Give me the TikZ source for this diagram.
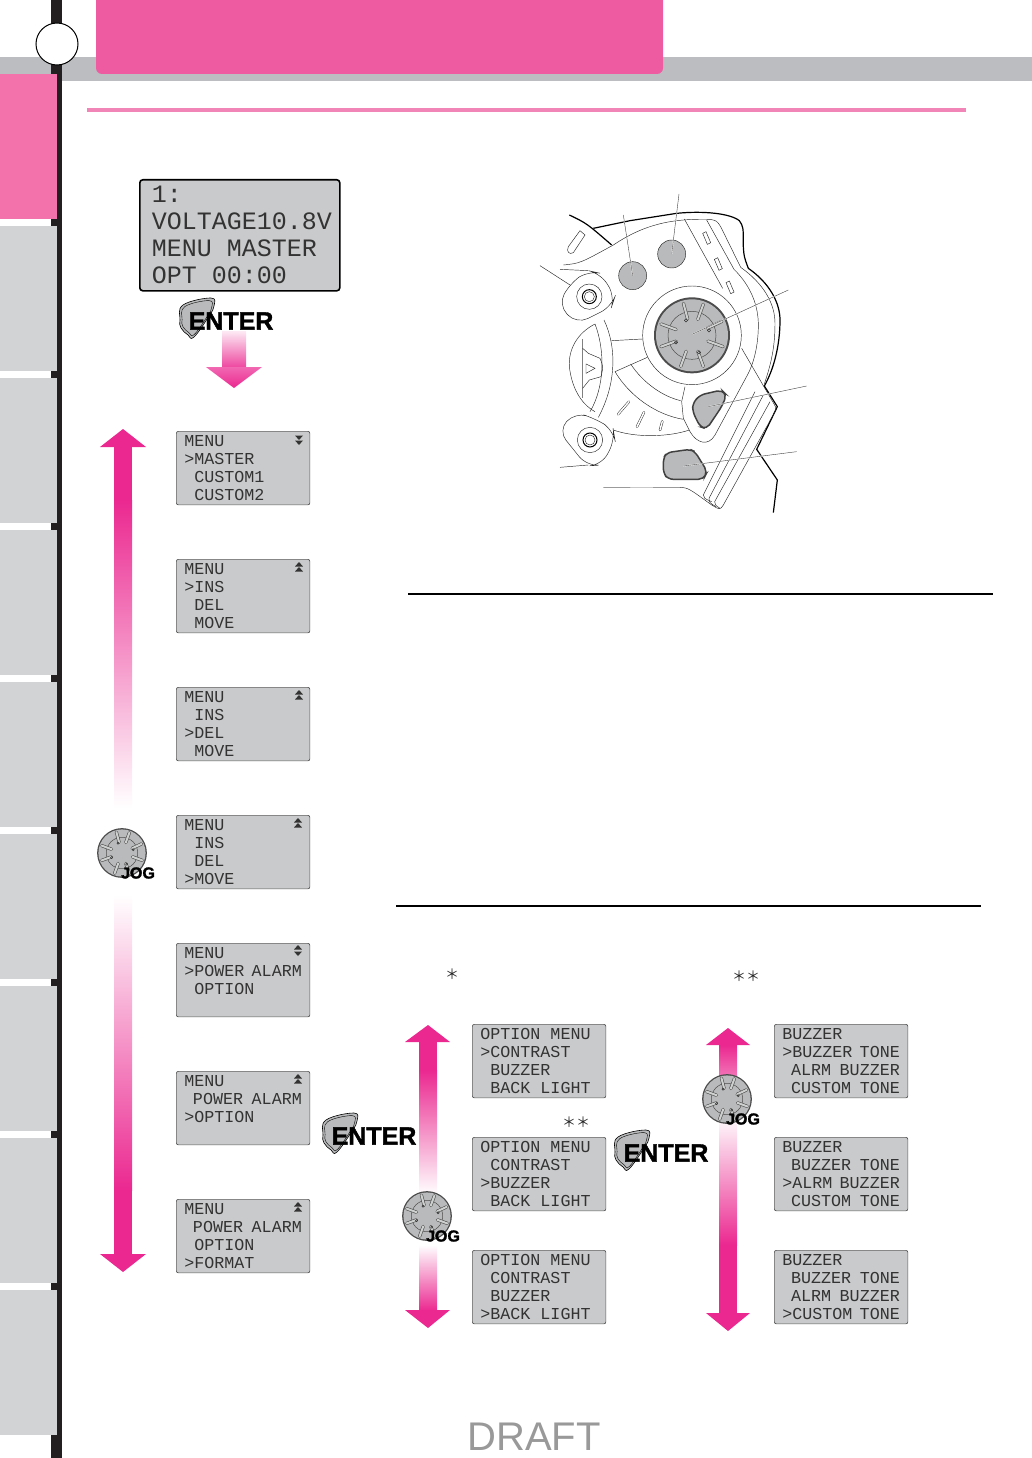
\documentclass[tikz,border=0pt]{standalone}
\usepackage{fontspec}
\usepackage{xcolor}
\setmainfont{Liberation Sans}
\newfontfamily\lcdfont{Liberation Mono}
\newfontfamily\keyfont[FakeBold=1.5]{Liberation Sans Bold}
\newfontfamily\cjkfont{Noto Sans CJK JP}
\definecolor{tabgray}{HTML}{D1D3D4}
\definecolor{bandgray}{HTML}{BCBDC0}
\definecolor{barblack}{HTML}{231F20}
\definecolor{headerpink}{HTML}{EF5BA1}
\definecolor{tabpink}{HTML}{F472AC}
\definecolor{rulepink}{HTML}{F285B8}
\definecolor{arrowpink}{HTML}{EB2890}
\definecolor{lcdgray}{HTML}{C9CACB}
\definecolor{lcdink}{HTML}{333333}
\definecolor{keygray}{HTML}{B9BABB}
\tikzset{
	lcdbox/.style={draw=black!65,fill=lcdgray,rounded corners=2pt,line width=.7pt,anchor=north west,
		minimum width=133.5,minimum height=73.5,inner xsep=8,inner ysep=0,text width=117.5,align=flush left,
		text=lcdink,font=\lcdfont\fontsize{16.7}{18}\selectfont},
	biglcd/.style={draw=black,fill=lcdgray,rounded corners=3pt,line width=1.6pt,anchor=north west,
		minimum width=200,minimum height=111,inner xsep=12,inner ysep=0,text width=176,align=flush left,
		text=lcdink,font=\lcdfont\fontsize{25}{27}\selectfont},
	starmark/.style={inner sep=0,text=black!85,font=\cjkfont\fontsize{14}{14}\selectfont},
	thinline/.style={line width=.45pt,black!85},
	thickline/.style={line width=1.2pt,black},
	leader/.style={line width=.4pt,black!75,preaction={draw=white,line width=1.1pt}},
	keyshape/.style={draw=black!75,line width=1.5pt,fill=keygray,rounded corners=5pt},
	markup/.pic={\fill[lcdink] (-4,-.5) -- (4,-.5) -- (0,-5) -- cycle;},
	markdown/.pic={\fill[lcdink] (-4,.5) -- (4,.5) -- (0,5) -- cycle;},
	jogdial/.pic={
		\fill[black!70] (0,0) circle (38);
		\fill[keygray] (0,0) circle (36);
		\draw[line width=.5pt,black!70] (0,0) circle (24);
		\foreach \a in {160,105,70,25,-20,-70,-110,200}{
			\draw[line width=3.2pt,line cap=round,black!70] (\a:17pt) -- (\a:33pt);
			\draw[line width=2pt,line cap=round,keygray!70!white] (\a:17pt) -- (\a:33pt);
		}
		\foreach \p in {(-6,-15),(17,-5),(-16,7),(7,17)}{\draw[line width=.5pt,black!80] \p circle (1.6);}
	},
	jogkey/.pic={
		\pic[scale=.655] {jogdial};
		\node[inner sep=0,font=\keyfont\fontsize{16}{16}\selectfont] (-label) at (16,20) {JOG};
	},
	enterkey/.pic={
		\draw[fill=keygray,line width=.6pt] plot[smooth cycle,tension=.7] coordinates {(-16,2) (-13,-13) (15,-20) (18,-12) (13,-2) (-2,19) (-8,17) (-15,10)};
		\draw[line width=.4pt,scale=.87] plot[smooth cycle,tension=.7] coordinates {(-16,2) (-13,-13) (15,-20) (18,-12) (13,-2) (-2,19) (-8,17) (-15,10)};
		\node[inner sep=0,font=\keyfont\fontsize{25}{25}\selectfont] (-label) at (35,3) {ENTER};
	}
}
\begin{document}
\begin{tikzpicture}[x=1pt,y=-1pt]
	\useasboundingbox (0,0) rectangle (1032,1458);
	% page furniture
	\fill[bandgray] (0,57) rectangle (1032,81);
	\fill[barblack] (51,0) rectangle (62,1458);
	\fill[tabpink] (0,74) rectangle (57,219);
	\foreach \t in {226,378,...,1290}{
		\fill[tabgray] (0,\t) rectangle (57,\t+145);
	}
	\fill[headerpink,rounded corners=6pt] (96,-10) rectangle (663,74);
	\draw[fill=white,line width=1pt] (57,44) circle (21);
	\fill[rulepink] (87,108) rectangle (966,112);
	\draw[line width=1.4pt] (408,594) -- (993,594);
	\draw[line width=1.4pt] (396,906) -- (981,906);
	\node[text=black!40,inner sep=0,font=\fontsize{40}{40}\selectfont] (draft) at (534,1437) {DRAFT};

	% first screen and enter
	\node[biglcd] (home) at (139,179) {1:\\VOLTAGE10.8V\\MENU~MASTER\\OPT~00:00};
	\shade[top color=arrowpink!10,bottom color=arrowpink!85] (222,331) rectangle (246,367);
	\shade[top color=arrowpink!70,bottom color=arrowpink] (206,367) -- (262,367) -- (234,388) -- cycle;
	\pic (enterone) at (196,318) {enterkey};

	% long menu arrow
	\fill[arrowpink] (123,429) -- (146,447) -- (100,447) -- cycle;
	\shade[top color=arrowpink,bottom color=white] (114,500) rectangle (132,808);
	\fill[arrowpink] (114,447) rectangle (132,500);
	\shade[top color=white,bottom color=arrowpink] (114,895) rectangle (132,1190);
	\fill[arrowpink] (114,1190) rectangle (132,1254);
	\fill[arrowpink] (100,1254) -- (146,1254) -- (123,1272) -- cycle;
	\pic (jogone) at (122,853) {jogkey};

	% main menu screens
	\node[lcdbox] (master) at (176,431) {MENU\\>MASTER\\~CUSTOM1\\~CUSTOM2};
	\node[lcdbox] (ins) at (176,559) {MENU\\>INS\\~DEL\\~MOVE};
	\node[lcdbox] (del) at (176,687) {MENU\\~INS\\>DEL\\~MOVE};
	\node[lcdbox] (move) at (176,815) {MENU\\~INS\\~DEL\\>MOVE};
	\node[lcdbox] (alarm) at (176,943) {MENU\\>POWER~ALARM\\~OPTION\\~};
	\node[lcdbox] (option) at (176,1071) {MENU\\~POWER~ALARM\\>OPTION\\~};
	\node[lcdbox] (format) at (176,1199) {MENU\\~POWER~ALARM\\~OPTION\\>FORMAT};
	\pic at (299,435) {markdown};
	\pic at (299,440) {markdown};
	\foreach \x/\y in {299/567,299/695,298/823,298/1079,298/1207}{
		\pic at (\x,\y) {markup};
		\pic at (\x,\y+5) {markup};
	}
	\pic at (298,950) {markup};
	\pic at (298,951) {markdown};

	% option menu
	\node[starmark] (stara) at (452,974) {＊};
	\node[starmark] (starb) at (746,976) {＊＊};
	\node[starmark] (starc) at (576,1122) {＊＊};
	\fill[arrowpink] (428,1025) -- (450,1042) -- (405,1042) -- cycle;
	\fill[arrowpink] (419,1042) rectangle (437,1070);
	\shade[top color=arrowpink,bottom color=white] (419,1070) rectangle (437,1195);
	\shade[top color=white,bottom color=arrowpink] (419,1245) rectangle (437,1311);
	\fill[arrowpink] (405,1310) -- (450,1310) -- (428,1328) -- cycle;
	\pic (enteropt) at (339,1133) {enterkey};
	\pic (jogopt) at (427,1216) {jogkey};
	\node[lcdbox] (contrast) at (472,1024) {OPTION~MENU\\>CONTRAST\\~BUZZER\\~BACK~LIGHT};
	\node[lcdbox] (buzzer) at (472,1137) {OPTION~MENU\\~CONTRAST\\>BUZZER\\~BACK~LIGHT};
	\node[lcdbox] (backlight) at (472,1250) {OPTION~MENU\\~CONTRAST\\~BUZZER\\>BACK~LIGHT};

	% buzzer menu
	\fill[arrowpink] (728,1028) -- (750,1045) -- (706,1045) -- cycle;
	\shade[top color=arrowpink,bottom color=arrowpink!55] (719,1045) rectangle (737,1085);
	\shade[top color=white,bottom color=arrowpink] (719,1115) rectangle (737,1245);
	\fill[arrowpink] (719,1245) rectangle (737,1313);
	\fill[arrowpink] (706,1313) -- (750,1313) -- (728,1331) -- cycle;
	\pic (enterbuz) at (631,1150) {enterkey};
	\pic (jogbuz) at (727,1099) {jogkey};
	\node[lcdbox] (tone) at (774,1024) {BUZZER\\>BUZZER~TONE\\~ALRM~BUZZER\\~CUSTOM~TONE};
	\node[lcdbox] (alrm) at (774,1137) {BUZZER\\~BUZZER~TONE\\>ALRM~BUZZER\\~CUSTOM~TONE};
	\node[lcdbox] (custom) at (774,1250) {BUZZER\\~BUZZER~TONE\\~ALRM~BUZZER\\>CUSTOM~TONE};

	% transmitter drawing
	\begin{scope}[shift={(530,180)},scale=1/3]
		\draw[thickline] (118,105) .. controls (170,130) .. (245,195);
		\draw[thickline,line join=round] (190,145) -- (300,122) -- (440,100) .. controls (520,92) and (600,100) .. (628,122)
			.. controls (640,140) .. (640,200) .. controls (642,230) .. (655,265)
			.. controls (720,310) and (750,370) .. (750,420) .. controls (750,500) and (730,570) .. (703,618)
			-- (742,680) -- (680,808) -- (742,900) -- (730,998);
		\draw[thinline] (100,255) .. controls (150,250) .. (250,195) .. controls (340,135) and (420,115) .. (540,118);
		\draw[thinline] (150,152) -- (165,165) -- (130,218) .. controls (118,225) and (108,215) .. (115,200) -- cycle;
		\draw[thinline] (463,117) -- (578,325);
		\draw[thinline] (540,118) .. controls (560,122) .. (572,140) -- (632,262) .. controls (700,310) and (735,370) .. (735,430)
			.. controls (735,510) and (720,560) .. (703,612);
		\draw[thinline] (530,120) -- (612,268) .. controls (665,320) and (685,380) .. (685,435) .. controls (685,500) and (670,550) .. (655,580);
		\foreach \dx/\dy in {0/0,35/78,70/148}{
			\draw[thinline] (518+\dx,160+\dy) -- (528+\dx,155+\dy) -- (542+\dx,188+\dy) -- (532+\dx,193+\dy) -- cycle;
		}
		% round keys and dial
		\draw[thinline,fill=keygray] (308,287) circle (42);
		\draw[thinline,fill=keygray] (425,222) circle (42);
		\draw[thinline,fill=white] (486,466) circle (148);
		\pic at (486,466) {jogdial};
		% left lugs
		\draw[thinline,rounded corners=12pt,fill=white] (85,375) -- (120,310) -- (175,272) -- (212,280) -- (255,350) -- (245,380) -- (140,432) -- cycle;
		\draw[thinline,rounded corners=12pt,fill=white] (85,752) -- (135,697) -- (195,715) -- (250,750) -- (255,780) -- (215,855) -- (170,858) -- cycle;
		\foreach \cx/\cy in {178/350,180/780}{
			\draw[thinline] (\cx,\cy) circle (38);
			\draw[line width=1pt] (\cx,\cy) circle (21);
			\draw[thinline] (\cx,\cy) circle (15);
		}
		% wheel between the lugs
		\draw[thinline] (195,432) .. controls (140,460) and (115,510) .. (118,560) .. controls (125,620) and (150,670) .. (195,695);
		\draw[thinline] (195,432) .. controls (225,510) and (225,620) .. (180,695);
		\draw[thinline] (222,420) .. controls (260,500) and (260,610) .. (205,712);
		\draw[thinline,black!50] (158,478) -- (158,655);
		\draw[thinline] (158,505) -- (175,520) -- (210,535) .. controls (220,560) .. (213,590) -- (178,600) -- (158,625);
		\draw[thinline] (168,552) -- (195,565) -- (168,580) -- cycle;
		\draw[thinline] (245,482) -- (338,477);
		\draw[thinline] (255,575) -- (352,532);
		\draw[thinline] (302,552) .. controls (340,610) and (400,650) .. (452,662);
		\draw[thinline] (255,575) .. controls (300,650) and (380,705) .. (460,718);
		\draw[thinline] (250,750) .. controls (320,775) and (420,770) .. (478,750);
		\draw[thinline,double=white,double distance=1.5pt,line cap=round] (297,665) -- (264,703);
		\draw[thinline,double=white,double distance=1.5pt,line cap=round] (342,697) -- (321,740);
		\draw[thinline,double=white,double distance=1.5pt,line cap=round] (397,724) -- (390,750);
		% lower right housing
		\draw[thinline] (465,620) -- (455,665) -- (460,715) -- (480,755) .. controls (500,790) and (535,800) .. (555,765) -- (655,580);
		\draw[thinline] (635,505) -- (725,660) .. controls (740,685) .. (735,695) -- (580,975) .. controls (570,990) .. (545,975);
		\draw[thinline] (675,635) -- (520,945) .. controls (522,955) .. (545,965);
		\draw[thinline] (700,645) -- (537,955) .. controls (538,968) .. (558,980);
		\draw[thinline] (720,665) -- (554,965) .. controls (555,975) .. (570,985);
		\draw[keyshape] (488,670) -- (510,645) -- (575,630) -- (590,645) -- (575,680) -- (530,747) -- (510,740) -- (488,695) -- cycle;
		\draw[keyshape] (400,835) -- (410,818) -- (480,808) -- (495,815) -- (532,875) -- (520,898) -- (415,898) -- (400,880) -- cycle;
		\draw[thinline] (450,922) .. controls (475,924) .. (545,975);
		% leaders
		\draw[leader] (280,105) -- (308,287);
		\draw[leader] (447,42) -- (425,222);
		\draw[leader] (775,330) -- (486,463);
		\draw[leader] (830,618) -- (535,680);
		\draw[leader] (800,815) -- (460,858);
		\draw[line width=.4pt,black!60] (220,923) -- (450,922);
		\draw[thinline] (30,257) -- (120,315);
		\draw[thinline] (90,268) -- (175,272);
		\draw[thinline] (90,862) -- (175,855);
	\end{scope}
\end{tikzpicture}
\end{document}
